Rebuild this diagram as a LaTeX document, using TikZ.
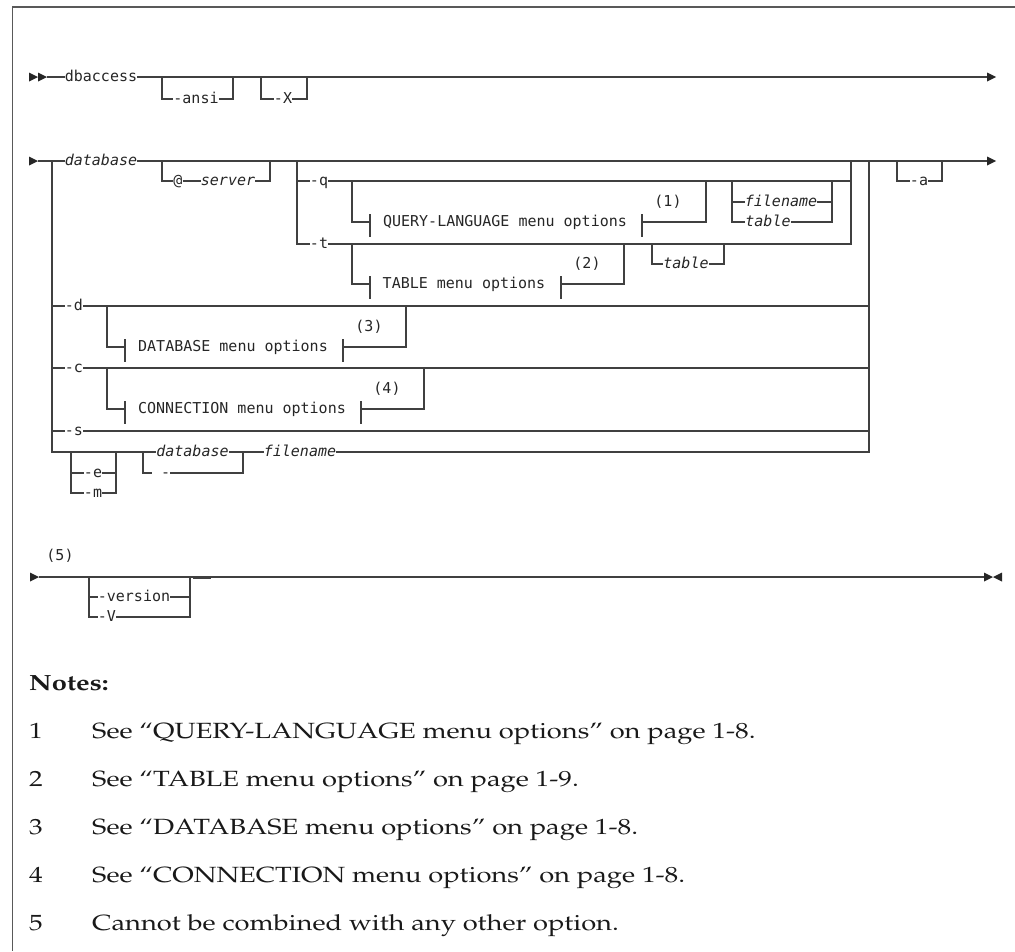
\documentclass[tikz,border=0pt]{standalone}
\usepackage[T1]{fontenc}
\usepackage{fontspec}
\usepackage{graphicx}
\newfontfamily\railfont{DejaVu Sans Mono}
\newcommand\kwfont{\railfont\fontsize{15}{18}\selectfont}
\newcommand\notefont{\fontencoding{T1}\fontfamily{ppl}\fontsize{22}{26}\selectfont}
\newcommand\stretchx[1]{\scalebox{1.24}[1]{#1}}

\tikzset{
  rail/.style={draw=black!75, line width=1.3pt},
  head/.style={fill=black!85},
  kw/.style={font=\kwfont, text=black!85, inner sep=0pt,
    text height=8.2pt, text depth=0pt, anchor=center},
  varname/.style={kw, font=\kwfont\itshape},
  notetext/.style={font=\notefont, text=black!90, inner sep=0pt, anchor=base west},
}

\begin{document}
\begin{tikzpicture}[x=1pt,y=-1pt]
  \useasboundingbox (0,0) rectangle (1015,951);
  % frame
  \draw[black!65, line width=1.6pt] (1015,7) -- (12.5,7) -- (12.5,951);

  % first line: dbaccess [-ansi] [-X]
  \fill[head] (29,72.5) -- (38,77) -- (29,81.5) -- cycle;
  \fill[head] (38,72.5) -- (47,77) -- (38,81.5) -- cycle;
  \node[kw] (dbaccess) at (101,77) {dbaccess};
  \node[kw] (ansi) at (196,99) {-ansi};
  \node[kw] (bigx) at (283,99) {-X};
  \draw[rail] (47,77) -- (dbaccess.west);
  \draw[rail] (dbaccess.east) -- (987,77);
  \fill[head] (987,72.5) -- (996,77) -- (987,81.5) -- cycle;
  \draw[rail] (162,77) |- (ansi.west);
  \draw[rail] (ansi.east) -| (233,77);
  \draw[rail] (261,77) |- (bigx.west);
  \draw[rail] (bigx.east) -| (307,77);

  % second line: database ...
  \fill[head] (29,156.5) -- (38,161) -- (29,165.5) -- cycle;
  \node[varname] (db) at (101,161) {database};
  \draw[rail] (38,161) -- (db.west);
  \draw[rail] (db.east) -- (987,161);
  \fill[head] (987,156.5) -- (996,161) -- (987,165.5) -- cycle;

  % @server
  \node[kw] (at) at (178,181) {@};
  \node[varname] (server) at (228,181) {server};
  \draw[rail] (162,161) |- (at.west);
  \draw[rail] (at.east) -- (server.west);
  \draw[rail] (server.east) -| (270,161);

  % -q / -t
  \node[kw] (optq) at (319,181) {-q};
  \node[kw] (optt) at (319,244) {-t};
  \draw[rail] (297,161) |- (optq.west);
  \draw[rail] (297,181) |- (optt.west);
  \draw[rail] (optq.east) -| (851,161);
  \draw[rail] (optt.east) -| (851,181);

  % query-language menu
  \node[kw] (qlmenu) at (505,222) {QUERY-LANGUAGE menu options};
  \node[kw] (ref1) at (668,202) {(1)};
  \draw[rail] (352,181) |- (370,222);
  \draw[rail] (370,214) -- (370,237);
  \draw[rail] (642,214) -- (642,237);
  \draw[rail] (642,222) -| (706,181);

  % filename | table
  \node[varname] (fnq) at (781,202) {filename};
  \node[varname] (tbq) at (768,222) {table};
  \draw[rail] (732,181) |- (fnq.west);
  \draw[rail] (732,202) |- (tbq.west);
  \draw[rail] (fnq.east) -| (832,181);
  \draw[rail] (tbq.east) -| (832,202);

  % table menu
  \node[kw] (tbmenu) at (464,284) {TABLE menu options};
  \node[kw] (ref2) at (587,264) {(2)};
  \draw[rail] (352,244) |- (370,284);
  \draw[rail] (370,276) -- (370,299);
  \draw[rail] (561,276) -- (561,299);
  \draw[rail] (561,284) -| (624,244);
  \node[varname] (tbt) at (686,264) {table};
  \draw[rail] (652,244) |- (tbt.west);
  \draw[rail] (tbt.east) -| (724,244);

  % -a
  \node[kw] (opta) at (919,181) {-a};
  \draw[rail] (897,161) |- (opta.west);
  \draw[rail] (opta.east) -| (942,161);

  % -d
  \node[kw] (optd) at (74,306) {-d};
  \draw[rail] (52,306) -- (optd.west);
  \draw[rail] (optd.east) -- (869,306);
  \node[kw] (dbmenu) at (233,347) {DATABASE menu options};
  \node[kw] (ref3) at (369,327) {(3)};
  \draw[rail] (107,306) |- (125,347);
  \draw[rail] (125,339) -- (125,362);
  \draw[rail] (343,339) -- (343,362);
  \draw[rail] (343,347) -| (406,306);

  % -c
  \node[kw] (optc) at (74,368) {-c};
  \draw[rail] (52,368) -- (optc.west);
  \draw[rail] (optc.east) -- (869,368);
  \node[kw] (cnmenu) at (242,409) {CONNECTION menu options};
  \node[kw] (ref4) at (387,389) {(4)};
  \draw[rail] (107,368) |- (125,409);
  \draw[rail] (125,401) -- (125,424);
  \draw[rail] (361,401) -- (361,424);
  \draw[rail] (361,409) -| (424,368);

  % -s
  \node[kw] (opts) at (74,431) {-s};
  \draw[rail] (52,431) -- (opts.west);
  \draw[rail] (opts.east) -- (869,431);

  % -e | -m, database | -, filename
  \node[varname] (db2) at (192.5,452) {database};
  \node[varname] (fn2) at (300,452) {filename};
  \draw[rail] (52,161) |- (db2.west);
  \draw[rail] (db2.east) -- (fn2.west);
  \draw[rail] (fn2.east) -| (869,161);
  \node[kw] (opte) at (93,473) {-e};
  \node[kw] (optm) at (93,493) {-m};
  \draw[rail] (71,452) |- (opte.west);
  \draw[rail] (71,473) |- (optm.west);
  \draw[rail] (opte.east) -| (116,452);
  \draw[rail] (optm.east) -| (116,473);
  \node[kw, anchor=west] (dash) at (152,473) {\ -};
  \draw[rail] (143,452) |- (dash.west);
  \draw[rail] (dash.east) -| (243,452);

  % third line: -version | -V
  \node[kw] (ref5) at (60,556) {(5)};
  \fill[head] (30,572.5) -- (39,577) -- (30,581.5) -- cycle;
  \node[kw] (version) at (134,597) {-version};
  \node[kw] (bigv) at (107,617) {-V};
  \draw[rail] (39,577) -- (984,577);
  \draw[rail] (89,577) |- (version.west);
  \draw[rail] (89,597) |- (bigv.west);
  \draw[rail] (version.east) -| (190,577);
  \draw[rail] (bigv.east) -| (190,597);
  \draw[rail] (193,578.3) -- (211,578.3);
  \fill[head] (984,572.5) -- (993,577) -- (984,581.5) -- cycle;
  \fill[head] (1002,572.5) -- (993,577) -- (1002,581.5) -- cycle;

  % notes
  \node[notetext, font=\notefont\bfseries] (notes) at (29,690) {\stretchx{Notes:}};
  \node[notetext] (num1) at (29,738) {\stretchx{1}};
  \node[notetext] (note1) at (92,738) {\stretchx{See ``QUERY-LANGUAGE menu options'' on page 1-8.}};
  \node[notetext] (num2) at (29,786) {\stretchx{2}};
  \node[notetext] (note2) at (92,786) {\stretchx{See ``TABLE menu options'' on page 1-9.}};
  \node[notetext] (num3) at (29,834) {\stretchx{3}};
  \node[notetext] (note3) at (92,834) {\stretchx{See ``DATABASE menu options'' on page 1-8.}};
  \node[notetext] (num4) at (29,882) {\stretchx{4}};
  \node[notetext] (note4) at (92,882) {\stretchx{See ``CONNECTION menu options'' on page 1-8.}};
  \node[notetext] (num5) at (29,930) {\stretchx{5}};
  \node[notetext] (note5) at (92,930) {\stretchx{Cannot be combined with any other option.}};
\end{tikzpicture}
\end{document}
